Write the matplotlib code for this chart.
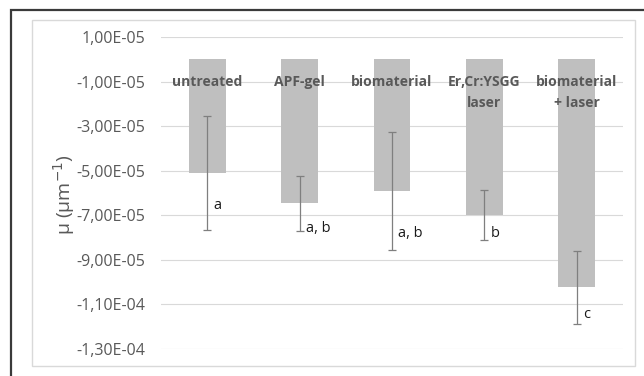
import matplotlib.pyplot as plt
from matplotlib.patches import Rectangle
from matplotlib.ticker import FuncFormatter

categories = ["untreated", "APF-gel", "biomaterial", "Er,Cr:YSGG\nlaser", "biomaterial\n+ laser"]
means = [-5.12e-5, -6.47e-5, -5.93e-5, -6.97e-5, -1.024e-4]
sd = [2.56e-5, 1.22e-5, 2.65e-5, 1.12e-5, 1.62e-5]
groups = ["a", "a, b", "a, b", "b", "c"]
group_y = [-6.55e-5, -7.6e-5, -7.8e-5, -7.8e-5, -1.144e-4]
yticks = [1e-5, -1e-5, -3e-5, -5e-5, -7e-5, -9e-5, -1.1e-4, -1.3e-4]

plt.rcParams['font.family'] = ['Open Sans', 'DejaVu Sans']
txt = '#595959'

fig = plt.figure(figsize=(6.44, 3.76), dpi=100)

# outer frame and chart area border
fig.patches.append(Rectangle((11 / 644, -0.1), 1.2, 1 - 10 / 376 + 0.1, transform=fig.transFigure,
                             fill=False, edgecolor='#3a3a3a', linewidth=1.6))
fig.patches.append(Rectangle((32 / 644, 1 - 366 / 376), 603 / 644, 346 / 376, transform=fig.transFigure,
                             fill=False, edgecolor='#d9d9d9', linewidth=1.0))

ax = fig.add_axes([161 / 644, 1 - 349 / 376, 462 / 644, 312 / 376])
x = range(len(categories))
ax.bar(x, means, width=0.4, color='#bfbfbf', zorder=2)
ax.errorbar(x, means, yerr=sd, fmt='none', ecolor='#7f7f7f', elinewidth=0.9,
            capsize=3, capthick=0.9, zorder=3)

line_step = 0.98e-5  # vertical spacing between the two lines of a category label
for i, (c, g, gy) in enumerate(zip(categories, groups, group_y)):
    for k, part in enumerate(c.split('\n')):
        ax.text(i, -1.0e-5 - k * line_step, part, ha='center', va='center', fontsize=10,
                fontweight='bold', color=txt, zorder=4)
    ax.text(i + 0.07, gy, g, ha='left', va='center', fontsize=10.5, color='#1a1a1a', zorder=4)

ax.set_xlim(-0.5, len(categories) - 0.5)
ax.set_ylim(-1.3e-4, 1e-5)
ax.set_yticks(yticks)
ax.yaxis.set_major_formatter(FuncFormatter(lambda v, p: f"{v:.2E}".replace('.', ',')))
ax.set_xticks([])
ax.tick_params(axis='y', length=0, pad=11, labelsize=11.5, labelcolor=txt)
ax.grid(axis='y', color='#d9d9d9', linewidth=0.8, zorder=0)
for s in ax.spines.values():
    s.set_visible(False)

fig.text(64 / 644, 1 - 195 / 376, "μ (μm$^{-1}$)", rotation=90, ha='center', va='center',
         fontsize=14, color=txt)

fig.savefig('out.png', dpi=100)
